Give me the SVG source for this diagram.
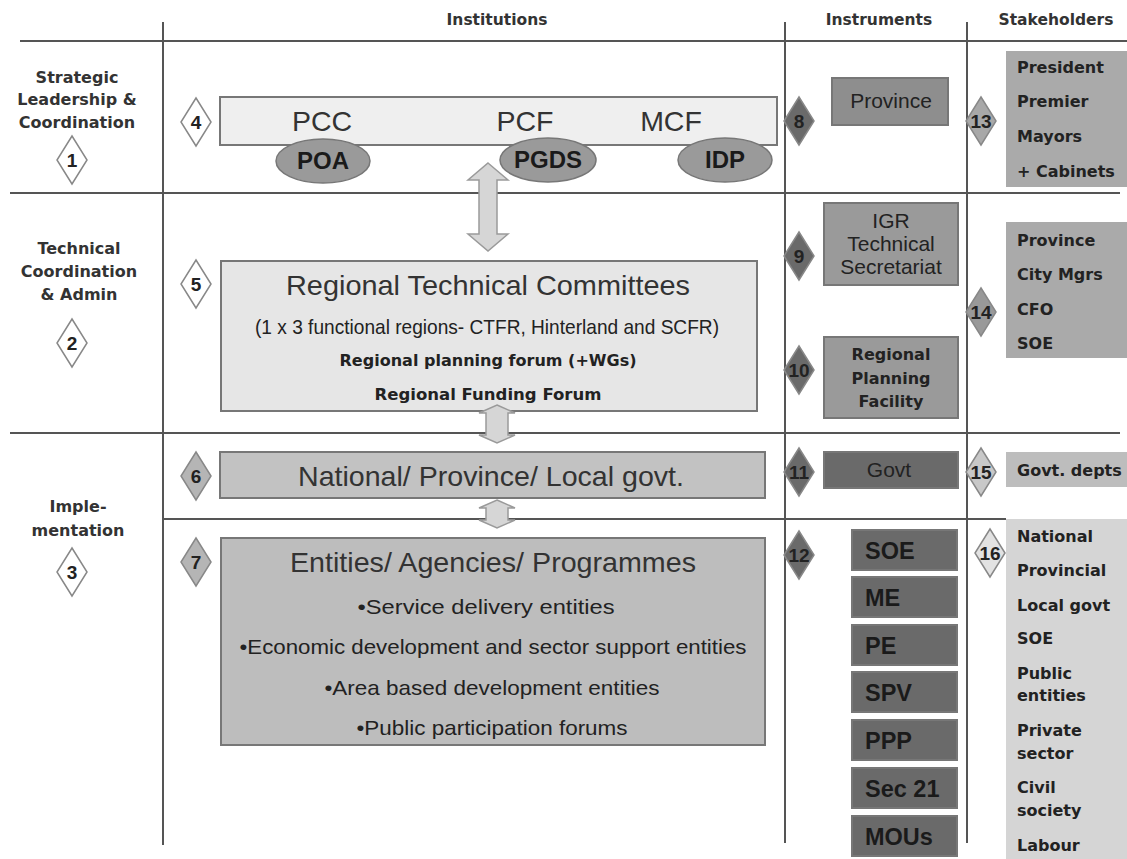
<svg xmlns="http://www.w3.org/2000/svg" width="1127" height="859" viewBox="0 0 1127 859">
  <style>
    .grid { stroke: #555; stroke-width: 2; fill: none; }
    .hdr { font-family: "DejaVu Sans", Verdana, sans-serif; font-weight: bold; font-size: 15.5px; fill: #333; text-anchor: middle; }
    .side { font-family: "DejaVu Sans", Verdana, sans-serif; font-weight: bold; font-size: 16px; fill: #333; text-anchor: middle; }
    .big { font-family: "Liberation Sans", Arial, sans-serif; font-size: 28.5px; fill: #333; text-anchor: middle; }
    .mid { font-family: "Liberation Sans", Arial, sans-serif; font-size: 21px; fill: #222; text-anchor: middle; }
    .bold14 { font-family: "DejaVu Sans", Verdana, sans-serif; font-weight: bold; font-size: 16px; fill: #222; text-anchor: middle; }
    .lst { font-family: "DejaVu Sans", Verdana, sans-serif; font-weight: bold; font-size: 16px; fill: #222; }
    .inst { font-family: "Liberation Sans", Arial, sans-serif; font-weight: bold; font-size: 23.5px; fill: #1a1a1a; }
    .oval { font-family: "Liberation Sans", Arial, sans-serif; font-weight: bold; font-size: 24px; fill: #1a1a1a; text-anchor: middle; }
    .num { font-family: "Liberation Sans", Arial, sans-serif; font-weight: bold; font-size: 19px; fill: #222; text-anchor: middle; }
    .dia { stroke: #888; stroke-width: 1.5; }
    .box { stroke: #777; stroke-width: 2; }
    .ell { fill: #9a9a9a; stroke: #777; stroke-width: 1.5; }
    .arr { fill: #d6d6d6; stroke: #9a9a9a; stroke-width: 1.5; }
  </style>
  <defs>
    <polygon id="dm" points="0,-24 15,0 0,24 -15,0"/>
  </defs>
  <rect width="1127" height="859" fill="#ffffff"/>

  <!-- table grid -->
  <g id="grid">
    <line class="grid" x1="20" y1="41" x2="1127" y2="41"/>
    <line class="grid" x1="10" y1="193" x2="1120" y2="193"/>
    <line class="grid" x1="10" y1="433" x2="1120" y2="433"/>
    <line class="grid" x1="163" y1="519" x2="1006" y2="519"/>
    <line class="grid" x1="163" y1="22" x2="163" y2="845"/>
    <line class="grid" x1="785" y1="22" x2="785" y2="843"/>
    <line class="grid" x1="967" y1="22" x2="967" y2="843"/>
  </g>

  <!-- column headers -->
  <g id="headers">
    <text class="hdr" x="497" y="25">Institutions</text>
    <text class="hdr" x="879" y="25">Instruments</text>
    <text class="hdr" x="1056" y="25">Stakeholders</text>
  </g>

  <!-- row labels -->
  <g id="row1">
    <text class="side" x="77" y="83">Strategic</text>
    <text class="side" x="77" y="105">Leadership &amp;</text>
    <text class="side" x="77" y="128">Coordination</text>
    <use href="#dm" x="72" y="160" fill="#fff" class="dia"/>
    <text class="num" x="72" y="167">1</text>
  </g>
  <g id="row2">
    <text class="side" x="79" y="254">Technical</text>
    <text class="side" x="79" y="277">Coordination</text>
    <text class="side" x="79" y="300">&amp; Admin</text>
    <use href="#dm" x="72" y="343" fill="#fff" class="dia"/>
    <text class="num" x="72" y="350">2</text>
  </g>
  <g id="row3">
    <text class="side" x="78" y="512">Imple-</text>
    <text class="side" x="78" y="536">mentation</text>
    <use href="#dm" x="72" y="572" fill="#fff" class="dia"/>
    <text class="num" x="72" y="579">3</text>
  </g>

  <!-- institutions -->
  <g id="node4">
    <use href="#dm" x="196" y="122" fill="#fff" class="dia"/>
    <text class="num" x="196" y="129">4</text>
    <rect class="box" x="220" y="97" width="557" height="48" fill="#efefef" stroke="#999"/>
    <text class="big" x="322" y="131" font-size="28">PCC</text>
    <text class="big" x="525" y="131" font-size="28">PCF</text>
    <text class="big" x="671" y="131" font-size="28">MCF</text>
    <ellipse class="ell" cx="323" cy="161" rx="47" ry="22"/>
    <text class="oval" x="323" y="169">POA</text>
    <ellipse class="ell" cx="548" cy="160" rx="48" ry="22"/>
    <text class="oval" x="548" y="168">PGDS</text>
    <ellipse class="ell" cx="725" cy="160" rx="47" ry="22"/>
    <text class="oval" x="725" y="168">IDP</text>
  </g>

  <g id="node5">
    <use href="#dm" x="196" y="284" fill="#fff" class="dia"/>
    <text class="num" x="196" y="291">5</text>
    <rect class="box" x="221" y="261" width="536" height="150" fill="#e6e6e6" stroke="#888"/>
    <text class="big" x="488" y="295" textLength="404" lengthAdjust="spacingAndGlyphs">Regional Technical Committees</text>
    <text class="mid" x="487" y="334" font-size="17" fill="#8a8a8a" textLength="464" lengthAdjust="spacingAndGlyphs">(1 x 3 functional regions- CTFR, Hinterland and SCFR)</text>
    <text class="bold14" x="488" y="366" textLength="297" lengthAdjust="spacingAndGlyphs">Regional planning forum (+WGs)</text>
    <text class="bold14" x="488" y="400" textLength="227" lengthAdjust="spacingAndGlyphs">Regional Funding Forum</text>
  </g>

  <g id="node6">
    <use href="#dm" x="196" y="476" fill="#b5b5b5" class="dia"/>
    <text class="num" x="196" y="483">6</text>
    <rect class="box" x="220" y="452" width="545" height="46" fill="#c2c2c2"/>
    <text class="big" x="491" y="486" textLength="386" lengthAdjust="spacingAndGlyphs">National/ Province/ Local govt.</text>
  </g>

  <g id="node7">
    <use href="#dm" x="196" y="562" fill="#b5b5b5" class="dia"/>
    <text class="num" x="196" y="569">7</text>
    <rect class="box" x="221" y="538" width="544" height="207" fill="#bdbdbd"/>
    <text class="big" x="493" y="572" textLength="406" lengthAdjust="spacingAndGlyphs">Entities/ Agencies/ Programmes</text>
    <text class="mid" x="486" y="614" textLength="257" lengthAdjust="spacingAndGlyphs">•Service delivery entities</text>
    <text class="mid" x="493" y="654" textLength="507" lengthAdjust="spacingAndGlyphs">•Economic development and sector support entities</text>
    <text class="mid" x="492" y="695" textLength="335" lengthAdjust="spacingAndGlyphs">•Area based development entities</text>
    <text class="mid" x="492" y="735" textLength="271" lengthAdjust="spacingAndGlyphs">•Public participation forums</text>
  </g>

  <!-- instruments -->
  <g id="node8">
    <use href="#dm" x="799" y="121" fill="#6a6a6a" class="dia"/>
    <text class="num" x="799" y="128">8</text>
    <rect class="box" x="832" y="78" width="116" height="47" fill="#8e8e8e" stroke="#6a6a6a"/>
    <text class="mid" x="891" y="108" font-size="16" fill="#b0b0b0">Province</text>
  </g>
  <g id="node9">
    <use href="#dm" x="799" y="256" fill="#6a6a6a" class="dia"/>
    <text class="num" x="799" y="263">9</text>
    <rect class="box" x="824" y="203" width="134" height="82" fill="#9a9a9a" stroke="#6a6a6a"/>
    <text class="mid" x="891" y="228" font-size="16.5" fill="#777">IGR</text>
    <text class="mid" x="891" y="251" font-size="16.5" fill="#777">Technical</text>
    <text class="mid" x="891" y="274" font-size="16.5" fill="#777">Secretariat</text>
  </g>
  <g id="node10">
    <use href="#dm" x="799" y="370" fill="#6a6a6a" class="dia"/>
    <text class="num" x="799" y="377">10</text>
    <rect class="box" x="824" y="337" width="134" height="81" fill="#9a9a9a" stroke="#6a6a6a"/>
    <text class="bold14" x="891" y="360" font-size="16.5">Regional</text>
    <text class="bold14" x="891" y="384" font-size="16.5">Planning</text>
    <text class="bold14" x="891" y="407" font-size="16.5">Facility</text>
  </g>
  <g id="node11">
    <use href="#dm" x="799" y="472" fill="#6a6a6a" class="dia"/>
    <text class="num" x="799" y="479">11</text>
    <rect class="box" x="824" y="452" width="134" height="36" fill="#6a6a6a" stroke="#555"/>
    <text class="mid" x="889" y="477" font-size="16.5" fill="#9a9a9a">Govt</text>
  </g>
  <g id="node12">
    <use href="#dm" x="799" y="555" fill="#6a6a6a" class="dia"/>
    <text class="num" x="799" y="562">12</text>
    <rect class="box" x="852" y="530" width="105" height="40" fill="#6a6a6a" stroke="#5a5a5a"/>
    <text class="inst" x="865" y="559">SOE</text>
    <rect class="box" x="852" y="577" width="105" height="40" fill="#6a6a6a" stroke="#5a5a5a"/>
    <text class="inst" x="865" y="606">ME</text>
    <rect class="box" x="852" y="625" width="105" height="40" fill="#6a6a6a" stroke="#5a5a5a"/>
    <text class="inst" x="865" y="654">PE</text>
    <rect class="box" x="852" y="672" width="105" height="40" fill="#6a6a6a" stroke="#5a5a5a"/>
    <text class="inst" x="865" y="701">SPV</text>
    <rect class="box" x="852" y="720" width="105" height="40" fill="#6a6a6a" stroke="#5a5a5a"/>
    <text class="inst" x="865" y="749">PPP</text>
    <rect class="box" x="852" y="768" width="105" height="40" fill="#6a6a6a" stroke="#5a5a5a"/>
    <text class="inst" x="865" y="797">Sec 21</text>
    <rect class="box" x="852" y="816" width="105" height="40" fill="#6a6a6a" stroke="#5a5a5a"/>
    <text class="inst" x="865" y="845">MOUs</text>
  </g>

  <!-- stakeholders -->
  <g id="node13">
    <rect x="1006" y="51" width="121" height="136" fill="#aaaaaa"/>
    <use href="#dm" x="981" y="121" fill="#a8a8a8" class="dia"/>
    <text class="num" x="981" y="128">13</text>
    <text class="lst" x="1017" y="73">President</text>
    <text class="lst" x="1017" y="107">Premier</text>
    <text class="lst" x="1017" y="142">Mayors</text>
    <text class="lst" x="1017" y="177">+ Cabinets</text>
  </g>
  <g id="node14">
    <rect x="1006" y="222" width="121" height="136" fill="#aaaaaa"/>
    <use href="#dm" x="981" y="312" fill="#999" class="dia"/>
    <text class="num" x="981" y="319">14</text>
    <text class="lst" x="1017" y="246">Province</text>
    <text class="lst" x="1017" y="280">City Mgrs</text>
    <text class="lst" x="1017" y="315">CFO</text>
    <text class="lst" x="1017" y="349">SOE</text>
  </g>
  <g id="node15">
    <rect x="1006" y="452" width="121" height="35" fill="#bdbdbd"/>
    <use href="#dm" x="981" y="472" fill="#c8c8c8" class="dia"/>
    <text class="num" x="981" y="479">15</text>
    <text class="lst" x="1017" y="476">Govt. depts</text>
  </g>
  <g id="node16">
    <rect x="1006" y="519" width="121" height="340" fill="#d5d5d5"/>
    <use href="#dm" x="990" y="553" fill="#e2e2e2" class="dia"/>
    <text class="num" x="990" y="560">16</text>
    <text class="lst" x="1017" y="542">National</text>
    <text class="lst" x="1017" y="576">Provincial</text>
    <text class="lst" x="1017" y="611">Local govt</text>
    <text class="lst" x="1017" y="644">SOE</text>
    <text class="lst" x="1017" y="679">Public</text>
    <text class="lst" x="1017" y="701">entities</text>
    <text class="lst" x="1017" y="736">Private</text>
    <text class="lst" x="1017" y="759">sector</text>
    <text class="lst" x="1017" y="793">Civil</text>
    <text class="lst" x="1017" y="816">society</text>
    <text class="lst" x="1017" y="851">Labour</text>
  </g>

  <!-- connectors: two-way block arrows between levels -->
  <g id="connectors">
    <polygon class="arr" points="488,163 508,180 497,180 497,234 508,234 488,251 468,234 479,234 479,180 468,180"/>
    <polygon class="arr" points="497,405 515,413 508,413 508,435 515,435 497,443 479,435 486,435 486,413 479,413"/>
    <polygon class="arr" points="497,500 515,508 508,508 508,520 515,520 497,528 479,520 486,520 486,508 479,508"/>
  </g>
</svg>
